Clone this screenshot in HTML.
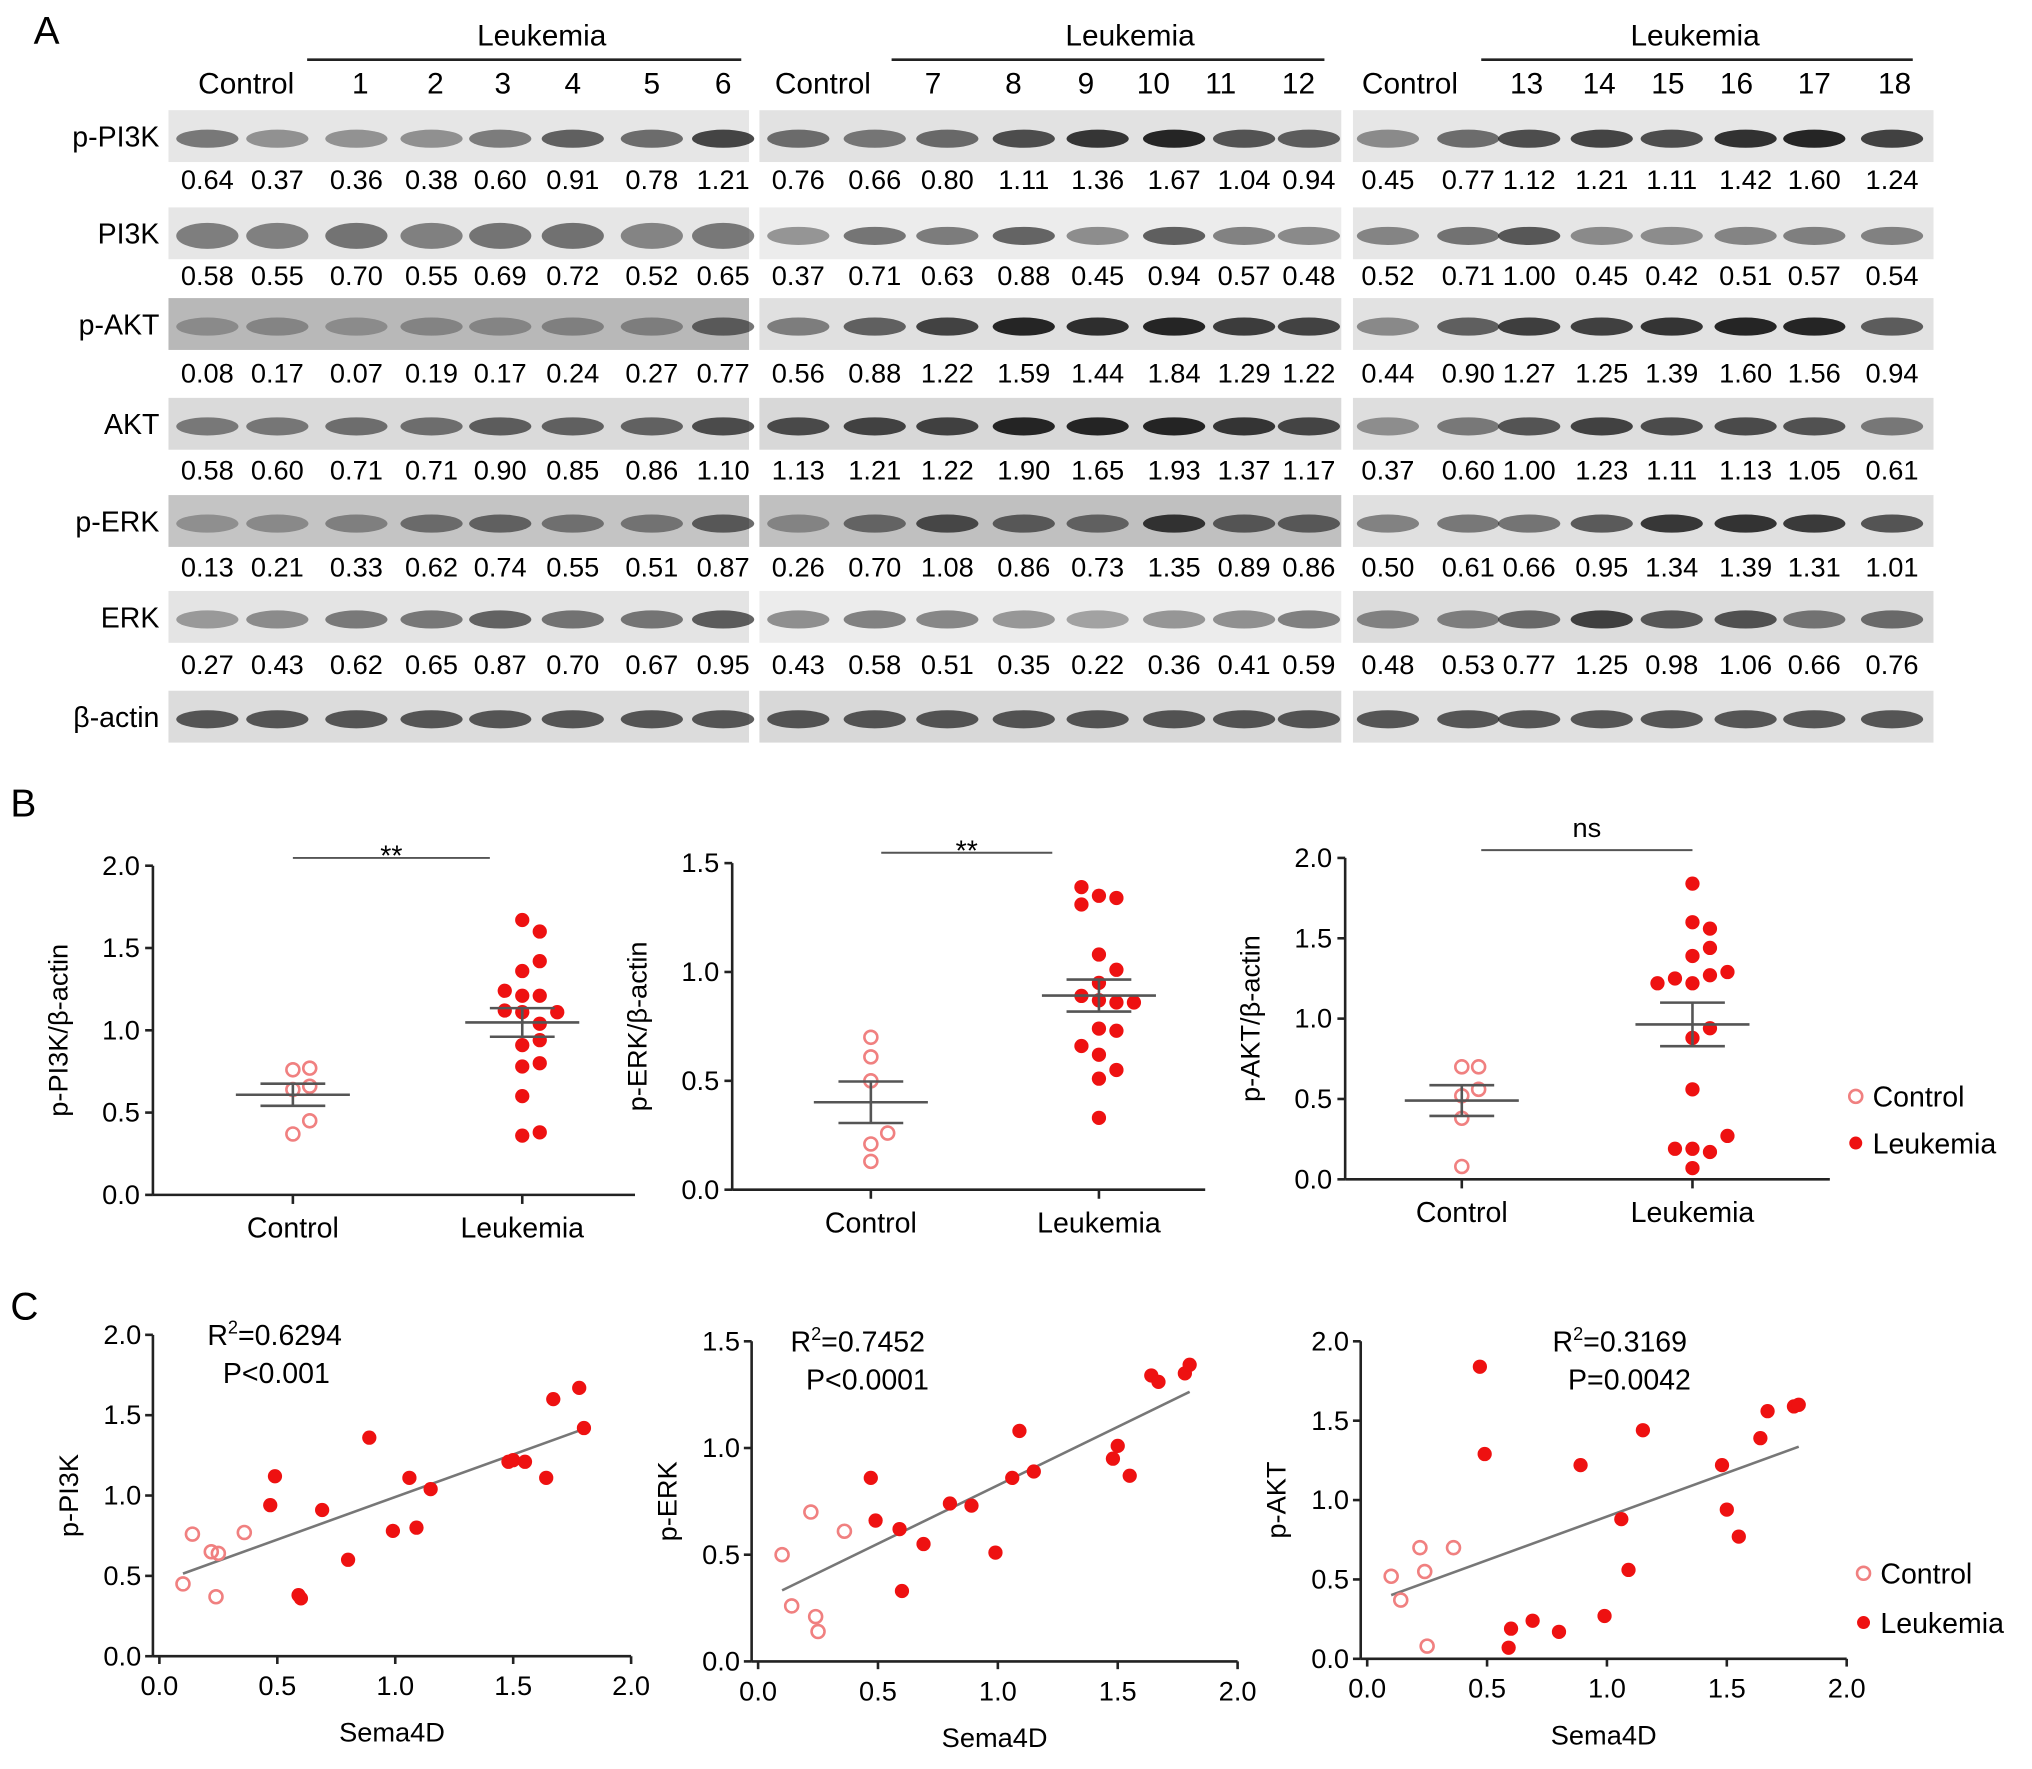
<!DOCTYPE html>
<html><head><meta charset="utf-8">
<style>
html,body{margin:0;padding:0;background:#fff;}
svg{display:block;font-family:"Liberation Sans",Arial,sans-serif;}
</style></head>
<body>
<svg id="fig" width="2032" height="1769" viewBox="0 0 1568 1365" xmlns="http://www.w3.org/2000/svg">
<g id="A"></g>
<g id="B"></g>
<g id="C"></g>
</svg>
<script>
// ---------- DATA ----------
const blotRows = ["p-PI3K","PI3K","p-AKT","AKT","p-ERK","ERK","β-actin"];
const quantG1 = [
 ["0.64","0.37","0.36","0.38","0.60","0.91","0.78","1.21"],
 ["0.58","0.55","0.70","0.55","0.69","0.72","0.52","0.65"],
 ["0.08","0.17","0.07","0.19","0.17","0.24","0.27","0.77"],
 ["0.58","0.60","0.71","0.71","0.90","0.85","0.86","1.10"],
 ["0.13","0.21","0.33","0.62","0.74","0.55","0.51","0.87"],
 ["0.27","0.43","0.62","0.65","0.87","0.70","0.67","0.95"]];
const quantG2 = [
 ["0.76","0.66","0.80","1.11","1.36","1.67","1.04","0.94"],
 ["0.37","0.71","0.63","0.88","0.45","0.94","0.57","0.48"],
 ["0.56","0.88","1.22","1.59","1.44","1.84","1.29","1.22"],
 ["1.13","1.21","1.22","1.90","1.65","1.93","1.37","1.17"],
 ["0.26","0.70","1.08","0.86","0.73","1.35","0.89","0.86"],
 ["0.43","0.58","0.51","0.35","0.22","0.36","0.41","0.59"]];
const quantG3 = [
 ["0.45","0.77","1.12","1.21","1.11","1.42","1.60","1.24"],
 ["0.52","0.71","1.00","0.45","0.42","0.51","0.57","0.54"],
 ["0.44","0.90","1.27","1.25","1.39","1.60","1.56","0.94"],
 ["0.37","0.60","1.00","1.23","1.11","1.13","1.05","0.61"],
 ["0.50","0.61","0.66","0.95","1.34","1.39","1.31","1.01"],
 ["0.48","0.53","0.77","1.25","0.98","1.06","0.66","0.76"]];
const laneLabels = [["1","2","3","4","5","6"],["7","8","9","10","11","12"],["13","14","15","16","17","18"]];

const bCtrlPI3K = [0.64,0.37,0.76,0.66,0.45,0.77];
const bLeukPI3K = [0.36,0.38,0.60,0.91,0.78,1.21,0.80,1.11,1.36,1.67,1.04,0.94,1.12,1.21,1.11,1.42,1.60,1.24];
const bCtrlERK = [0.13,0.21,0.26,0.70,0.50,0.61];
const bLeukERK = [0.33,0.62,0.74,0.55,0.51,0.87,1.08,0.86,0.73,1.35,0.89,0.86,0.66,0.95,1.34,1.39,1.31,1.01];
const bCtrlAKT = [0.08,0.38,0.52,0.56,0.70,0.70];
const bLeukAKT = [0.07,0.19,0.17,0.19,0.27,0.56,0.88,1.22,1.27,1.25,1.39,1.60,1.56,0.94,1.44,1.84,1.29,1.22];

const cCtrlX = [0.10,0.14,0.22,0.24,0.25,0.36];
const cLeukX = [0.47,0.49,0.59,0.60,0.69,0.80,0.89,0.99,1.06,1.09,1.15,1.48,1.50,1.55,1.64,1.67,1.78,1.80];
const cCtrlPI3K = [0.45,0.76,0.65,0.37,0.64,0.77];
const cLeukPI3K = [0.94,1.12,0.38,0.36,0.91,0.60,1.36,0.78,1.11,0.80,1.04,1.21,1.22,1.21,1.11,1.60,1.67,1.42];
const cCtrlERK = [0.50,0.26,0.70,0.21,0.14,0.61];
const cLeukERK = [0.86,0.66,0.62,0.33,0.55,0.74,0.73,0.51,0.86,1.08,0.89,0.95,1.01,0.87,1.34,1.31,1.35,1.39];
const cCtrlAKT = [0.52,0.37,0.70,0.55,0.08,0.70];
const cLeukAKT = [1.84,1.29,0.07,0.19,0.24,0.17,1.22,0.27,0.88,0.56,1.44,1.22,0.94,0.77,1.39,1.56,1.59,1.60];

// ---------- helpers ----------
const NS="http://www.w3.org/2000/svg";
function mk(parent,tag,attrs,text){const e=document.createElementNS(NS,tag);for(const k in attrs)e.setAttribute(k,attrs[k]);if(text!==undefined)e.textContent=text;parent.appendChild(e);return e;}

// ---------- Panel A ----------
const A=document.getElementById('A');
let t=mk(A,'text',{x:26,y:34,'font-size':30},'A');


const groups=[
 {x0:130,x1:578,lanes:[160,214,275,333,386,442,503,558],ctrl:190,labs:[278,336,388,442,503,558],lk:418,l0:237,l1:572,q:quantG1},
 {x0:586,x1:1035,lanes:[616,675,731,790,847,906,960,1010],ctrl:635,labs:[720,782,838,890,942,1002],lk:872,l0:688,l1:1022,q:quantG2},
 {x0:1044,x1:1492,lanes:[1071,1133,1180,1236,1290,1347,1400,1460],ctrl:1088,labs:[1178,1234,1287,1340,1400,1462],lk:1308,l0:1143,l1:1476,q:quantG3}];
const rowY=[105,180,250,327,402,476,553];
const rowBg=[['#e6e6e6','#e2e2e2','#e6e6e6'],['#e6e6e6','#ececec','#e6e6e6'],['#b8b8b8','#e0e0e0','#e2e2e2'],['#dadada','#d8d8d8','#dedede'],['#c4c4c4','#c0c0c0','#e0e0e0'],['#e4e4e4','#ececec','#dcdcdc'],['#dcdcdc','#d8d8d8','#e0e0e0']];
const numY=[146,220,295,370,445,520];
groups.forEach((g,gi)=>{
  let e=mk(A,'text',{x:g.ctrl,y:72,'font-size':23,'text-anchor':'middle'},'Control');
  
  
  e=mk(A,'text',{x:g.lk,y:35,'font-size':23,'text-anchor':'middle'},'Leukemia');
  
  
  mk(A,'line',{x1:g.l0,x2:g.l1,y1:46,y2:46,stroke:'#222','stroke-width':2});
  g.labs.forEach((x,i)=>{const l=mk(A,'text',{x:x,y:72,'font-size':23,'text-anchor':'middle'},laneLabels[gi][i]);
    
    });
  rowBlot(g,gi);
});
function rowBlot(g,gi){
  rowY.forEach((y,ri)=>{
    const b=mk(A,'rect',{x:g.x0,y:y-20,width:g.x1-g.x0,height:40,fill:rowBg[ri][gi]});
    
    
    g.lanes.forEach((x,li)=>{
      let inten = ri<6 ? parseFloat(g.q[ri][li]) : 1.0;
      let op=Math.min(0.95,0.25+inten*0.45);
      let h = ri===1&&gi===0 ? 10 : 7;
      mk(A,'ellipse',{cx:x,cy:y+2,rx:24,ry:h,fill:'#1a1a1a',opacity:op});
    });
    if(ri<6){
      g.lanes.forEach((x,li)=>{const n=mk(A,'text',{x:x,y:numY[ri],'font-size':21,'text-anchor':'middle'},g.q[ri][li]);
        
        });
    }
  });
}
blotRows.forEach((r,ri)=>{const e=mk(A,'text',{x:123,y:rowY[ri]+8,'font-size':22,'text-anchor':'end'},r);
  
  });

// ---------- Panel B ----------
const B=document.getElementById('B');
t=mk(B,'text',{x:8,y:630,'font-size':30},'B');


const bPlots=[
 {ax:118,xe:490,y0:922,ytop:668,max:2,ticks:["0.0","0.5","1.0","1.5","2.0"],step:0.5,cx:226,lx:403,ctrl:bCtrlPI3K,leuk:bLeukPI3K,title:'p-PI3K/β-actin',sig:'**',sigY:662,sx:[226,378]},
 {ax:565,xe:930,y0:918,ytop:666,max:1.5,ticks:["0.0","0.5","1.0","1.5"],step:0.5,cx:672,lx:848,ctrl:bCtrlERK,leuk:bLeukERK,title:'p-ERK/β-actin',sig:'**',sigY:658,sx:[680,812]},
 {ax:1038,xe:1412,y0:910,ytop:662,max:2,ticks:["0.0","0.5","1.0","1.5","2.0"],step:0.5,cx:1128,lx:1306,ctrl:bCtrlAKT,leuk:bLeukAKT,title:'p-AKT/β-actin',sig:'ns',sigY:656,sx:[1143,1306]}];
function swarm(vals,cx,ys,spacing){
  const placed=[];const out=[];
  vals.forEach(v=>{const y=ys(v);let x=cx;
    const cands=[0];for(let i=1;i<10;i++){cands.push(i*spacing/2,-i*spacing/2);}
    for(const dx of cands){if(placed.every(p=>Math.hypot(p[0]-(cx+dx),p[1]-y)>=12.5)){x=cx+dx;break;}}
    placed.push([x,y]);out.push([x,y]);});
  return out;
}
function stats(a){const m=a.reduce((s,v)=>s+v,0)/a.length;const sd=Math.sqrt(a.reduce((s,v)=>s+(v-m)**2,0)/(a.length-1));return [m,sd/Math.sqrt(a.length)];}
bPlots.forEach((p,pi)=>{
  const g=mk(B,'g',{});
  
  
  const ys=v=>p.y0-(v/p.max)*(p.y0-p.ytop);
  mk(g,'line',{x1:p.ax,x2:p.ax,y1:p.ytop,y2:p.y0,stroke:'#222','stroke-width':2});
  mk(g,'line',{x1:p.ax,x2:p.xe,y1:p.y0,y2:p.y0,stroke:'#222','stroke-width':2});
  p.ticks.forEach((tl,i)=>{const y=ys(i*p.step);mk(g,'line',{x1:p.ax-6,x2:p.ax,y1:y,y2:y,stroke:'#222','stroke-width':2});
    const e=mk(g,'text',{x:p.ax-10,y:y+7,'font-size':21,'text-anchor':'end'},tl);
    
    });
  [[p.cx,'Control'],[p.lx,'Leukemia']].forEach(([x,l])=>{mk(g,'line',{x1:x,x2:x,y1:p.y0,y2:p.y0+7,stroke:'#222','stroke-width':2});
    const e=mk(g,'text',{x:x,y:p.y0+33,'font-size':22,'text-anchor':'middle'},l);
    
    });
  const yt=mk(g,'text',{x:0,y:0,'font-size':21,'text-anchor':'middle',transform:`translate(${p.ax-66},${(p.y0+p.ytop)/2}) rotate(-90)`},p.title);
  
  
  mk(g,'line',{x1:p.sx[0],x2:p.sx[1],y1:p.sigY,y2:p.sigY,stroke:'#555','stroke-width':1.5});
  const st=mk(g,'text',{x:(p.sx[0]+p.sx[1])/2,y:p.sigY-(p.sig==='ns'?10:-6),'font-size':p.sig==='ns'?21:22,'text-anchor':'middle'},p.sig);
  
  
  swarm(p.ctrl,p.cx,ys,13).forEach(([x,y])=>{const c=mk(g,'circle',{cx:x,cy:y,r:5,fill:'none',stroke:'#f08080','stroke-width':2});
    
    });
  swarm(p.leuk,p.lx,ys,27).forEach(([x,y])=>{const c=mk(g,'circle',{cx:x,cy:y,r:5.5,fill:'#ee1111'});
    
    });
  [[p.ctrl,p.cx],[p.leuk,p.lx]].forEach(([a,x])=>{const [m,se]=stats(a);
    mk(g,'line',{x1:x-44,x2:x+44,y1:ys(m),y2:ys(m),stroke:'#555','stroke-width':2});
    mk(g,'line',{x1:x-25,x2:x+25,y1:ys(m+se),y2:ys(m+se),stroke:'#555','stroke-width':2});
    mk(g,'line',{x1:x-25,x2:x+25,y1:ys(m-se),y2:ys(m-se),stroke:'#555','stroke-width':2});
    mk(g,'line',{x1:x,x2:x,y1:ys(m+se),y2:ys(m-se),stroke:'#555','stroke-width':2});});
});
function legend(par,x,y1,y2,prefix){
  let c=mk(par,'circle',{cx:x,cy:y1,r:5,fill:'none',stroke:'#f08080','stroke-width':2});
  
  
  let e=mk(par,'text',{x:x+13,y:y1+8,'font-size':22},'Control');
  
  
  c=mk(par,'circle',{cx:x,cy:y2,r:5,fill:'#ee1111'});
  
  
  e=mk(par,'text',{x:x+13,y:y2+8,'font-size':22},'Leukemia');
  
  
}
legend(B,1432,846,882,'b');

// ---------- Panel C ----------
const C=document.getElementById('C');
t=mk(C,'text',{x:8,y:1018,'font-size':30},'C');


const cPlots=[
 {ax:118,x2:487,y0:1278,ytop:1030,max:2,ticks:["0.0","0.5","1.0","1.5","2.0"],step:0.5,ctrl:cCtrlPI3K,leuk:cLeukPI3K,title:'p-PI3K',r2:'=0.6294',p:'P<0.001',tx:160},
 {ax:580,x2:955,y0:1282,ytop:1035,max:1.5,ticks:["0.0","0.5","1.0","1.5"],step:0.5,ctrl:cCtrlERK,leuk:cLeukERK,title:'p-ERK',r2:'=0.7452',p:'P<0.0001',tx:610},
 {ax:1050,x2:1425,y0:1280,ytop:1035,max:2,ticks:["0.0","0.5","1.0","1.5","2.0"],step:0.5,ctrl:cCtrlAKT,leuk:cLeukAKT,title:'p-AKT',r2:'=0.3169',p:'P=0.0042',tx:1198}];
const xTicks=["0.0","0.5","1.0","1.5","2.0"];
cPlots.forEach((p,pi)=>{
  const g=mk(C,'g',{});
  
  
  const xs=v=>p.ax+5+(v/2)*(p.x2-p.ax-5);
  const ys=v=>p.y0-(v/p.max)*(p.y0-p.ytop);
  mk(g,'line',{x1:p.ax,x2:p.ax,y1:p.ytop,y2:p.y0,stroke:'#222','stroke-width':2});
  mk(g,'line',{x1:p.ax,x2:p.x2,y1:p.y0,y2:p.y0,stroke:'#222','stroke-width':2});
  p.ticks.forEach((tl,i)=>{const y=ys(i*p.step);mk(g,'line',{x1:p.ax-6,x2:p.ax,y1:y,y2:y,stroke:'#222','stroke-width':2});
    const e=mk(g,'text',{x:p.ax-9,y:y+7,'font-size':21,'text-anchor':'end'},tl);
    
    });
  xTicks.forEach((tl,i)=>{const x=xs(i*0.5);mk(g,'line',{x1:x,x2:x,y1:p.y0,y2:p.y0+6,stroke:'#222','stroke-width':2});
    const e=mk(g,'text',{x:x,y:p.y0+30,'font-size':21,'text-anchor':'middle'},tl);
    
    });
  let e=mk(g,'text',{x:(p.ax+p.x2)/2,y:p.y0+66,'font-size':21,'text-anchor':'middle'},'Sema4D');
  
  
  e=mk(g,'text',{x:0,y:0,'font-size':21,'text-anchor':'middle',transform:`translate(${p.ax-58},${(p.y0+p.ytop)/2}) rotate(-90)`},p.title);
  
  
  e=mk(g,'text',{x:p.tx,y:p.ytop+8,'font-size':22});
  
  
  mk(e,'tspan',{},'R');mk(e,'tspan',{dy:-9,'font-size':14},'2');mk(e,'tspan',{dy:9},p.r2);
  e=mk(g,'text',{x:p.tx+12,y:p.ytop+37,'font-size':22},p.p);
  
  
  const X=cCtrlX.concat(cLeukX),Y=p.ctrl.concat(p.leuk);
  const mx=X.reduce((a,b)=>a+b)/X.length,my=Y.reduce((a,b)=>a+b)/Y.length;
  let sxy=0,sxx=0;X.forEach((x,i)=>{sxy+=(x-mx)*(Y[i]-my);sxx+=(x-mx)**2;});
  const sl=sxy/sxx,ic=my-sl*mx;
  const xa=Math.min(...X),xb=Math.max(...X);
  const rl=mk(g,'line',{x1:xs(xa),y1:ys(ic+sl*xa),x2:xs(xb),y2:ys(ic+sl*xb),stroke:'#777','stroke-width':2});
  
  
  cCtrlX.forEach((x,i)=>{const c=mk(g,'circle',{cx:xs(x),cy:ys(p.ctrl[i]),r:5,fill:'none',stroke:'#f08080','stroke-width':2});
    
    });
  cLeukX.forEach((x,i)=>{const c=mk(g,'circle',{cx:xs(x),cy:ys(p.leuk[i]),r:5.5,fill:'#ee1111'});
    
    });
});
legend(C,1438,1214,1252,'c');
</script>
</body></html>
